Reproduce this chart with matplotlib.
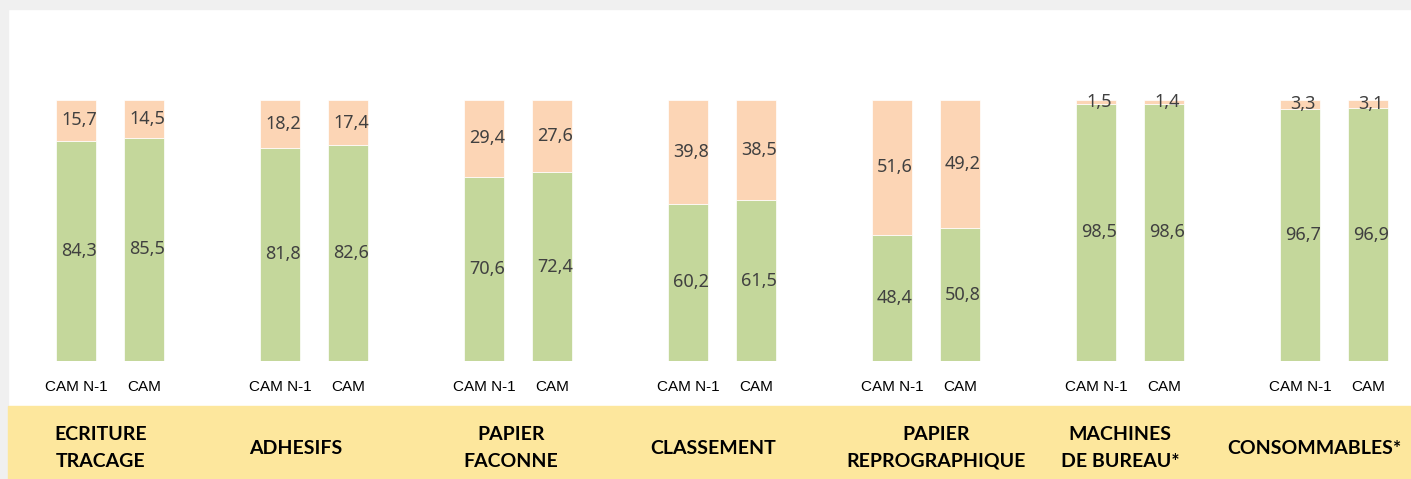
import matplotlib.pyplot as plt
import numpy as np
from matplotlib.patches import Rectangle

# donnees
categories = ['ECRITURE\nTRACAGE', 'ADHESIFS', 'PAPIER\nFACONNE', 'CLASSEMENT',
              'PAPIER\nREPROGRAPHIQUE', 'MACHINES\nDE BUREAU*', 'CONSOMMABLES*']
periodes = ['CAM N-1', 'CAM']
vert_n1 = [84.3, 81.8, 70.6, 60.2, 48.4, 98.5, 96.7]
vert_cam = [85.5, 82.6, 72.4, 61.5, 50.8, 98.6, 96.9]
orange_n1 = [15.7, 18.2, 29.4, 39.8, 51.6, 1.5, 3.3]
orange_cam = [14.5, 17.4, 27.6, 38.5, 49.2, 1.4, 3.1]

W, H = 1411, 479
fig = plt.figure(figsize=(W / 100, H / 100), dpi=100)
fig.patch.set_facecolor('white')

# bordure grise + bandeau jaune
fig.add_artist(Rectangle((0, 0), 8 / W, 1, transform=fig.transFigure, color='#f0f0f0', zorder=0))
fig.add_artist(Rectangle((0, 1 - 9 / H), 1, 9 / H, transform=fig.transFigure, color='#f0f0f0', zorder=0))
fig.add_artist(Rectangle((8 / W, 0), 1, (479 - 406) / H, transform=fig.transFigure, color='#fde79d', zorder=0))

# axe qui couvre la zone des barres (y 100..361 px)
ax = fig.add_axes([0, (H - 361) / H, 1, 261 / H])
ax.set_facecolor('none')
ax.set_xlim(-110 / 204, (W - 110) / 204)
ax.set_ylim(0, 100)
ax.axis('off')

x = np.arange(len(categories))
dx = 34 / 204
w = 40 / 204
vert = '#c4d79b'
orange = '#fcd5b5'

for off, v, o in [(-dx, vert_n1, orange_n1), (dx, vert_cam, orange_cam)]:
    ax.bar(x + off, v, w, color=vert, edgecolor='white', linewidth=0.5)
    ax.bar(x + off, o, w, bottom=v, color=orange, edgecolor='white', linewidth=0.5)
    for i in range(len(x)):
        lab_v = f'{v[i]:.1f}'.replace('.', ',')
        lab_o = f'{o[i]:.1f}'.replace('.', ',')
        ax.text(x[i] + off + 0.015, v[i] / 2, lab_v, ha='center', va='center',
                fontsize=13, color='#404040', family='Noto Sans')
        ax.text(x[i] + off + 0.015, v[i] + o[i] / 2, lab_o, ha='center', va='center',
                fontsize=13, color='#404040', family='Noto Sans')

# etiquettes CAM N-1 / CAM
y_tick = -(387 - 361) / 261 * 100
for i in range(len(x)):
    for off, p in zip([-dx, dx], periodes):
        ax.text(x[i] + off, y_tick, p, ha='center', va='center', fontsize=11,
                family='Liberation Sans', color='black', clip_on=False)

# categories dans le bandeau (decalage en px, comme dans l'original)
decal = [-9, -18, -7, -9, 10, -10, -20]
y_cat = -(448 - 361) / 261 * 100
for i, c in enumerate(categories):
    ax.text(x[i] + decal[i] / 204, y_cat, c, ha='center', va='center', fontsize=14,
            fontweight='bold', family=['Lato', 'DejaVu Sans'], linespacing=1.7,
            clip_on=False)

plt.savefig('out.png', dpi=100)
